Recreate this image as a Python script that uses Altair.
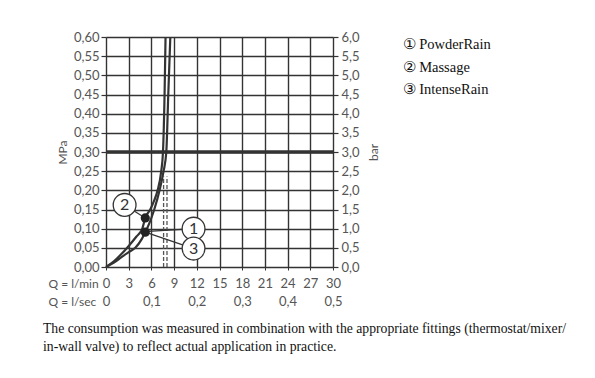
import altair as alt
import pandas as pd

# ---- data ----
q_ticks = [0, 3, 6, 9, 12, 15, 18, 21, 24, 27, 30]
mpa_ticks = [0.00, 0.05, 0.10, 0.15, 0.20, 0.25, 0.30, 0.35, 0.40, 0.45, 0.50, 0.55, 0.60]
bar_ticks = [0.0, 0.5, 1.0, 1.5, 2.0, 2.5, 3.0, 3.5, 4.0, 4.5, 5.0, 5.5, 6.0]

massage_q = [0, 1.0, 2.0, 3.0, 4.0, 4.8, 5.19, 5.85, 6.4, 6.82, 7.3, 7.53, 7.74, 7.87]
massage_p = [0, 0.014, 0.033, 0.055, 0.079, 0.10, 0.128, 0.15, 0.175, 0.20, 0.25, 0.30, 0.45, 0.60]

intense_q = [0, 1.0, 2.0, 3.0, 3.87, 4.7, 5.19, 5.42, 6.38, 7.08, 7.61, 7.97, 8.23, 8.5]
intense_p = [0, 0.011, 0.025, 0.039, 0.05, 0.072, 0.091, 0.10, 0.15, 0.20, 0.25, 0.30, 0.45, 0.60]

dot_q = [5.19, 5.19]
dot_p = [0.128, 0.091]

label_nums = ["1", "2", "3"]
label_names = ["\u2460 PowderRain", "\u2461 Massage", "\u2462 IntenseRain"]
label_q = [11.57, 2.46, 11.57]
label_p = [0.100, 0.162, 0.048]
target_q = [5.59, 5.19, 5.19]
target_p = [0.093, 0.128, 0.091]

dash_q = [7.61, 8.06]
dash_top = [0.236, 0.236]

limit_mpa = [0.30]

caption = [
    "The consumption was measured in combination with the appropriate fittings (thermostat/mixer/",
    "in-wall valve) to reflect actual application in practice.",
]

# ---- tables ----
curves = pd.concat([
    pd.DataFrame({"q": massage_q, "p": massage_p, "curve": "Massage"}),
    pd.DataFrame({"q": intense_q, "p": intense_p, "curve": "PowderRain/IntenseRain"}),
])
dots = pd.DataFrame({"q": dot_q, "p": dot_p})
labels = pd.DataFrame({"num": label_nums, "name": label_names, "q": label_q, "p": label_p,
                       "tq": target_q, "tp": target_p})
dashes = pd.DataFrame({"q": dash_q, "top": dash_top, "bottom": [0, 0]})
limit = pd.DataFrame({"mpa": limit_mpa})

AX_FONT = "Lato"
DARK = "#333333"
TXT = "#555555"

xscale = alt.Scale(domain=[0, 30], nice=False, zero=False)
yscale = alt.Scale(domain=[0, 0.6], nice=False, zero=False)

x_axis = alt.Axis(
    values=q_ticks, grid=True, gridColor=DARK, gridWidth=1.4, domain=False,
    tickSize=3, tickColor=DARK, labelPadding=7, labelFont=AX_FONT, labelFontSize=13,
    labelColor=TXT, labelLineHeight=18, labelFlush=False, labelOverlap=False,
    labelExpr="[format(datum.value, 'd'), datum.value % 6 == 0 ? (datum.value == 0 ? '0' : replace(format(datum.value / 60, '.1f'), '.', ',')) : '']",
    title=["Q = l/min", "Q = l/sec"], titleFont=AX_FONT, titleFontSize=12, titleFontWeight="normal",
    titleColor=TXT, titleLineHeight=18, titleAngle=0, titleAlign="left", titleBaseline="top",
    titleX=-58, titleY=11,
)
y_axis = alt.Axis(
    values=mpa_ticks, grid=True, gridColor=DARK, gridWidth=1.4, domain=False,
    tickSize=5, tickColor=DARK, tickWidth=1.2, labelPadding=2, labelFont=AX_FONT,
    labelFontSize=13, labelColor=TXT, labelFlush=False, labelOverlap=False,
    labelExpr="replace(format(datum.value, '.2f'), '.', ',')",
    title="MPa", titleFont=AX_FONT, titleFontSize=12, titleFontWeight="normal", titleColor=TXT,
    titleAngle=-90, titleBaseline="middle", titleAlign="center", titleX=-44, titleY=115,
)
bar_axis = alt.Axis(
    orient="right", values=bar_ticks, grid=False, domain=False,
    tickSize=5, tickColor=DARK, tickWidth=1.2, labelPadding=3, labelFont=AX_FONT,
    labelFontSize=13, labelColor=TXT, labelFlush=False, labelOverlap=False,
    labelExpr="replace(format(datum.value, '.1f'), '.', ',')",
    title="bar", titleFont=AX_FONT, titleFontSize=12, titleFontWeight="normal", titleColor=TXT,
    titleAngle=-90, titleBaseline="middle", titleAlign="center", titleX=40, titleY=115,
)

X = alt.X("q:Q", scale=xscale, axis=x_axis)
Y = alt.Y("p:Q", scale=yscale, axis=y_axis)

limit_layer = alt.Chart(limit).transform_calculate(bar="datum.mpa * 10").mark_rule(
    color=DARK, strokeWidth=3.6
).encode(y=alt.Y("bar:Q", scale=alt.Scale(domain=[0, 6], nice=False, zero=False), axis=bar_axis))

dash_layer = alt.Chart(dashes).mark_rule(color="#555555", strokeWidth=1.3, strokeDash=[4, 2]).encode(
    x=X, y=alt.Y("bottom:Q", scale=yscale, axis=y_axis), y2="top:Q"
)

curve_layer = alt.Chart(curves).mark_line(color=DARK, strokeWidth=2.2, interpolate="monotone").encode(
    x=X, y=Y, detail="curve:N"
)

dot_layer = alt.Chart(dots).mark_circle(color="#222222", size=85, opacity=1).encode(x=X, y=Y)

leader_layer = alt.Chart(labels).mark_rule(color=DARK, strokeWidth=1.2).encode(
    x=X, y=Y, x2="tq:Q", y2="tp:Q"
)

circle_layer = alt.Chart(labels).mark_point(
    filled=True, size=520, stroke=DARK, strokeWidth=1.3, opacity=1, shape="circle"
).encode(
    x=X, y=Y,
    color=alt.Color("name:N", scale=alt.Scale(domain=label_names, range=["white", "white", "white"]),
                    legend=alt.Legend(orient="none", legendX=282, legendY=1, title=None,
                                      symbolSize=0, symbolOpacity=0, symbolStrokeWidth=0,
                                      labelFont="Liberation Serif", labelFontSize=14.5,
                                      labelColor="#111111", labelOffset=0, rowPadding=7.5,
                                      padding=0)),
)

num_layer = alt.Chart(labels).mark_text(font=AX_FONT, fontSize=16, color=DARK).encode(
    x=X, y=Y, text="num:N"
)

main = alt.layer(dash_layer, curve_layer, leader_layer, dot_layer, circle_layer, num_layer)

chart = alt.layer(limit_layer, main).resolve_scale(y="independent").properties(
    width=227, height=230,
    autosize=alt.AutoSizeParams(type="none"),
    padding={"left": 98, "top": 29, "right": 254, "bottom": 103},
    title=alt.TitleParams(text=caption, orient="bottom", anchor="start", frame="group",
                          font="Liberation Serif", fontSize=13.7, fontWeight="normal",
                          color="#111111", lineHeight=18, dx=-63, offset=14),
).configure_view(stroke=None).configure(background="white")

chart.save("out.html", embed_options={"renderer": "svg", "actions": False})
